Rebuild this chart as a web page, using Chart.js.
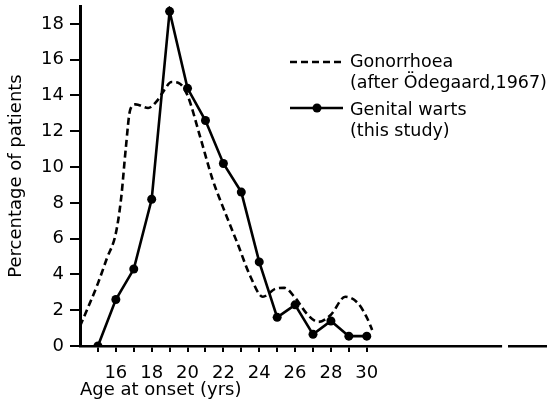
<!DOCTYPE html>
<html><head><meta charset="utf-8">
<script src="https://cdn.jsdelivr.net/npm/chart.js@4/dist/chart.umd.min.js"></script>
<style>html,body{margin:0;padding:0;background:#fff}#wrap{width:551px;height:404px}</style>
</head><body><div id="wrap"><canvas id="c" width="551" height="404"></canvas></div>
<script>
// ---- data ----
const wartAges   = [15, 16, 17, 18, 19, 20, 21, 22, 23, 24, 25, 26, 27, 28, 29, 30];
const wartValues = [0, 2.6, 4.3, 8.2, 18.7, 14.4, 12.6, 10.2, 8.6, 4.7, 1.6, 2.3, 0.65, 1.4, 0.55, 0.55];

const gonoAges   = [14, 15, 15.5, 16, 16.3, 16.55, 16.8, 17.1, 17.8, 18.3, 18.7, 19.1, 19.5, 20.0, 20.7, 21.4, 22.2, 22.8, 23.5, 24.2, 24.9, 25.4, 26.0, 26.7, 27.3, 28.0, 28.8, 29.5, 30.0, 30.3];
const gonoValues = [1.1, 3.5, 4.9, 6.3, 8.3, 11.0, 13.2, 13.5, 13.3, 13.7, 14.3, 14.75, 14.7, 14.0, 11.7, 9.3, 7.2, 5.7, 3.9, 2.75, 3.2, 3.25, 2.7, 1.75, 1.35, 1.75, 2.75, 2.4, 1.6, 0.9];

const xTicks = [15, 16, 17, 18, 19, 20, 21, 22, 23, 24, 25, 26, 27, 28, 29, 30];
const yTicks = [0, 2, 4, 6, 8, 10, 12, 14, 16, 18];
const seriesNames = [["Gonorrhoea", "(after Ödegaard,1967)"], ["Genital warts", "(this study)"]];
const xTitle = "Age at onset (yrs)";
const yTitle = "Percentage of patients";
const axisBreak = [37.55, 37.88];

const FONT = "'DejaVu Sans', sans-serif";

const legendPlugin = {
  id: 'customLegend',
  afterDraw(chart) {
    const ctx = chart.ctx;
    const ds = chart.data.datasets;
    const rows = [{y1: 62, y2: 83, ly: 62}, {y1: 110, y2: 131, ly: 108}];
    ctx.save();
    rows.forEach((r, i) => {
      const d = ds[i];
      ctx.strokeStyle = d.borderColor;
      ctx.lineWidth = d.borderWidth;
      ctx.setLineDash(d.borderDash || []);
      ctx.beginPath();
      ctx.moveTo(290, r.ly); ctx.lineTo(343, r.ly);
      ctx.stroke();
      ctx.setLineDash([]);
      if (d.pointRadius > 0) {
        ctx.fillStyle = d.pointBackgroundColor;
        ctx.beginPath();
        ctx.arc(317, r.ly, d.pointRadius, 0, Math.PI * 2);
        ctx.fill();
      }
      ctx.fillStyle = '#000';
      ctx.font = "17.5px " + FONT;
      ctx.textBaseline = 'middle';
      ctx.textAlign = 'left';
      ctx.fillText(seriesNames[i][0], 350, r.y1);
      ctx.fillText(seriesNames[i][1], 350, r.y2);
    });
    ctx.restore();
  }
};

const breakPlugin = {
  id: 'axisBreak',
  afterDraw(chart) {
    const x = chart.scales.x;
    const a = x.getPixelForValue(axisBreak[0]);
    const b = x.getPixelForValue(axisBreak[1]);
    const y = chart.chartArea.bottom;
    const ctx = chart.ctx;
    ctx.save();
    ctx.fillStyle = '#fff';
    ctx.fillRect(a, y - 3, b - a, 6);
    ctx.restore();
  }
};

new Chart(document.getElementById('c'), {
  type: 'line',
  data: {
    datasets: [
      {
        label: seriesNames[0].join(' '),
        data: gonoAges.map((a, i) => ({x: a, y: gonoValues[i]})),
        borderColor: '#000',
        borderWidth: 2.6,
        borderDash: [7, 4],
        pointRadius: 0,
        cubicInterpolationMode: 'monotone',
        fill: false
      },
      {
        label: seriesNames[1].join(' '),
        data: wartAges.map((a, i) => ({x: a, y: wartValues[i]})),
        borderColor: '#000',
        borderWidth: 2.6,
        pointRadius: 4.5,
        pointBackgroundColor: '#000',
        pointBorderColor: '#000',
        pointBorderWidth: 0,
        tension: 0,
        fill: false
      }
    ]
  },
  options: {
    responsive: false,
    devicePixelRatio: 1,
    animation: false,
    layout: {padding: {top: 6, right: 5, left: 0, bottom: 0}},
    plugins: {legend: {display: false}, tooltip: {enabled: false}},
    scales: {
      x: {
        type: 'linear', min: 14, max: 40,
        afterBuildTicks: s => { s.ticks = xTicks.map(v => ({value: v})); },
        afterFit: s => { s.height = 58; s.paddingLeft = 0; s.paddingRight = 0; },
        ticks: {
          callback: v => (v % 2 === 0 ? String(v) : ''),
          font: {family: FONT, size: 18}, color: '#000',
          padding: 11, maxRotation: 0, autoSkip: false
        },
        grid: {drawOnChartArea: false, drawTicks: true, tickLength: 6, color: '#000', lineWidth: 2},
        border: {color: '#000', width: 2.5},
        title: {display: true, text: xTitle, align: 'start', color: '#000',
                font: {family: FONT, size: 18}, padding: {top: 0, bottom: 3}}
      },
      y: {
        min: 0, max: 19,
        afterBuildTicks: s => { s.ticks = yTicks.map(v => ({value: v})); },
        afterFit: s => { s.width = 80; s.paddingTop = 0; s.paddingBottom = 0; },
        ticks: {
          callback: v => String(v),
          font: {family: FONT, size: 18}, color: '#000', padding: 6
        },
        grid: {drawOnChartArea: false, drawTicks: true, tickLength: 10, color: '#000', lineWidth: 2},
        border: {color: '#000', width: 3},
        title: {display: true, text: yTitle, color: '#000',
                font: {family: FONT, size: 18}, padding: {top: 6, bottom: 0}}
      }
    }
  },
  plugins: [legendPlugin, breakPlugin]
});
</script>
</body></html>
